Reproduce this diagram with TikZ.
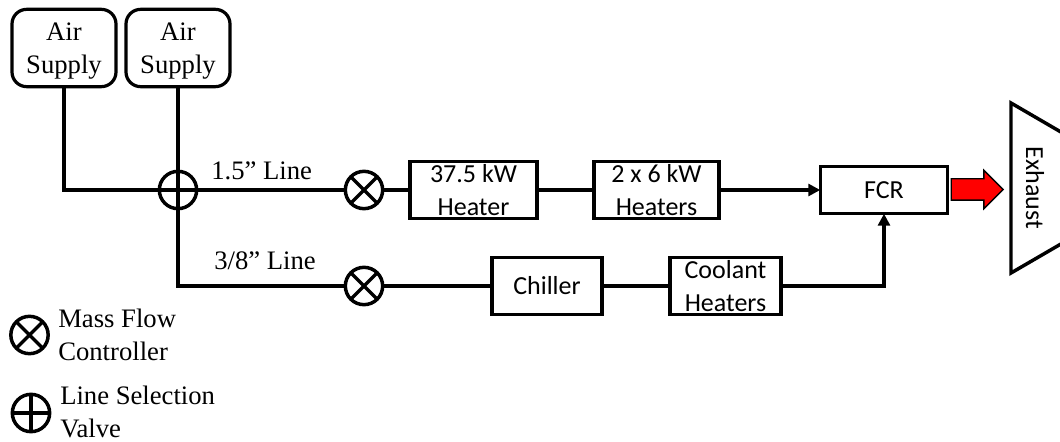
\documentclass[tikz,border=0pt]{standalone}
\usepackage{fontspec}
\setmainfont{Liberation Serif}
\newfontfamily\boxfont{Carlito}
\usetikzlibrary{arrows.meta,shapes.arrows}
\tikzset{
  px/.style={x=0.75pt,y=-0.75pt},
  wire/.style={line width=3pt,draw=black},
  flow/.style={wire,-{Triangle[length=9pt,width=9pt]},shorten >=-1pt},
  supplybox/.style={draw,line width=2.4pt,rounded corners=11pt,minimum width=78pt,minimum height=58pt,inner sep=0pt,align=center,font=\fontsize{20}{25}\selectfont,text depth=0pt},
  unitbox/.style={draw,line width=2.6pt,inner sep=0pt,align=center,fill=white,font=\boxfont\fontsize{19.5}{24.5}\selectfont},
  valvecross/.style={circle,draw,line width=2.6pt,minimum size=28pt,inner sep=0pt,fill=white,path picture={
     \draw[line width=2.6pt] (path picture bounding box.north west)--(path picture bounding box.south east)
       (path picture bounding box.north east)--(path picture bounding box.south west);}},
  valveplus/.style={circle,draw,line width=2.6pt,minimum size=28pt,inner sep=0pt,fill=white,path picture={
     \draw[line width=2.4pt] (path picture bounding box.north)--(path picture bounding box.south)
       (path picture bounding box.east)--(path picture bounding box.west);}},
  lbl/.style={inner sep=0pt,align=left,font=\fontsize{20}{25}\selectfont},
}
\begin{document}
\begin{tikzpicture}[px]
\path[use as bounding box] (0,0) rectangle (1060,442);
\clip (0,0) rectangle (1060,442);
% sources
\node[supplybox] (air1) at (64,48) {Air\\Supply};
\node[supplybox] (air2) at (178,48) {Air\\Supply};
% valves
\node[valveplus] (sel) at (178,190) {};
\node[valvecross] (mfcA) at (364,190) {};
\node[valvecross] (mfcB) at (364,286) {};
% units
\node[unitbox,minimum width=95pt,minimum height=43pt] (h1) at (473.5,190) {37.5 kW\\Heater};
\node[unitbox,minimum width=94pt,minimum height=43pt] (h2) at (656.5,190) {2 x 6 kW\\Heaters};
\node[unitbox,minimum width=95pt,minimum height=35pt] (fcr) at (884,190) {FCR};
\node[unitbox,minimum width=82.5pt,minimum height=43pt] (chill) at (547,286) {Chiller};
\node[unitbox,minimum width=83pt,minimum height=43pt] (cool) at (725.5,286) {Coolant\\Heaters};
% exhaust
\draw[line width=2.6pt,line join=miter] (1011,103) -- (1140,178) -- (1140,198) -- (1011,273) -- cycle;
\node[rotate=-90,inner sep=0pt,font=\boxfont\fontsize{19.5}{24}\selectfont] (exh) at (1035,188) {Exhaust};
\node[single arrow,draw=black,fill=red,line width=1pt,minimum height=39pt,minimum width=28pt,single arrow head extend=6.5pt,inner xsep=0pt,inner ysep=7.5pt,single arrow head indent=0pt,anchor=tail] (out) at (950.5,189.5) {};
% connectors
\coordinate (corner) at (178,286);
\draw[wire] (air1.south) |- (sel.west);
\draw[wire] (air2.south) -- (sel.north);
\draw[wire] (sel.south) -- (corner) -- (mfcB.west);
\draw[wire] (sel.east) -- (mfcA.west);
\draw[wire] (mfcA.east) -- (h1.west);
\draw[wire] (h1.east) -- (h2.west);
\draw[flow] (h2.east) -- (fcr.west);
\draw[wire] (mfcB.east) -- (chill.west);
\draw[wire] (chill.east) -- (cool.west);
\draw[flow] (cool.east) -| (fcr.south);
% labels
\node[lbl,anchor=west] (l1) at (211,171) {1.5” Line};
\node[lbl,anchor=west] (l2) at (214,261) {3/8” Line};
% legend
\node[valvecross] (k1) at (29.5,335) {};
\node[valveplus] (k2) at (31,413) {};
\node[lbl,anchor=west] (k1t) at (58,335) {Mass Flow\\Controller};
\node[lbl,anchor=west] (k2t) at (60,412) {Line Selection\\Valve};
\end{tikzpicture}
\end{document}
